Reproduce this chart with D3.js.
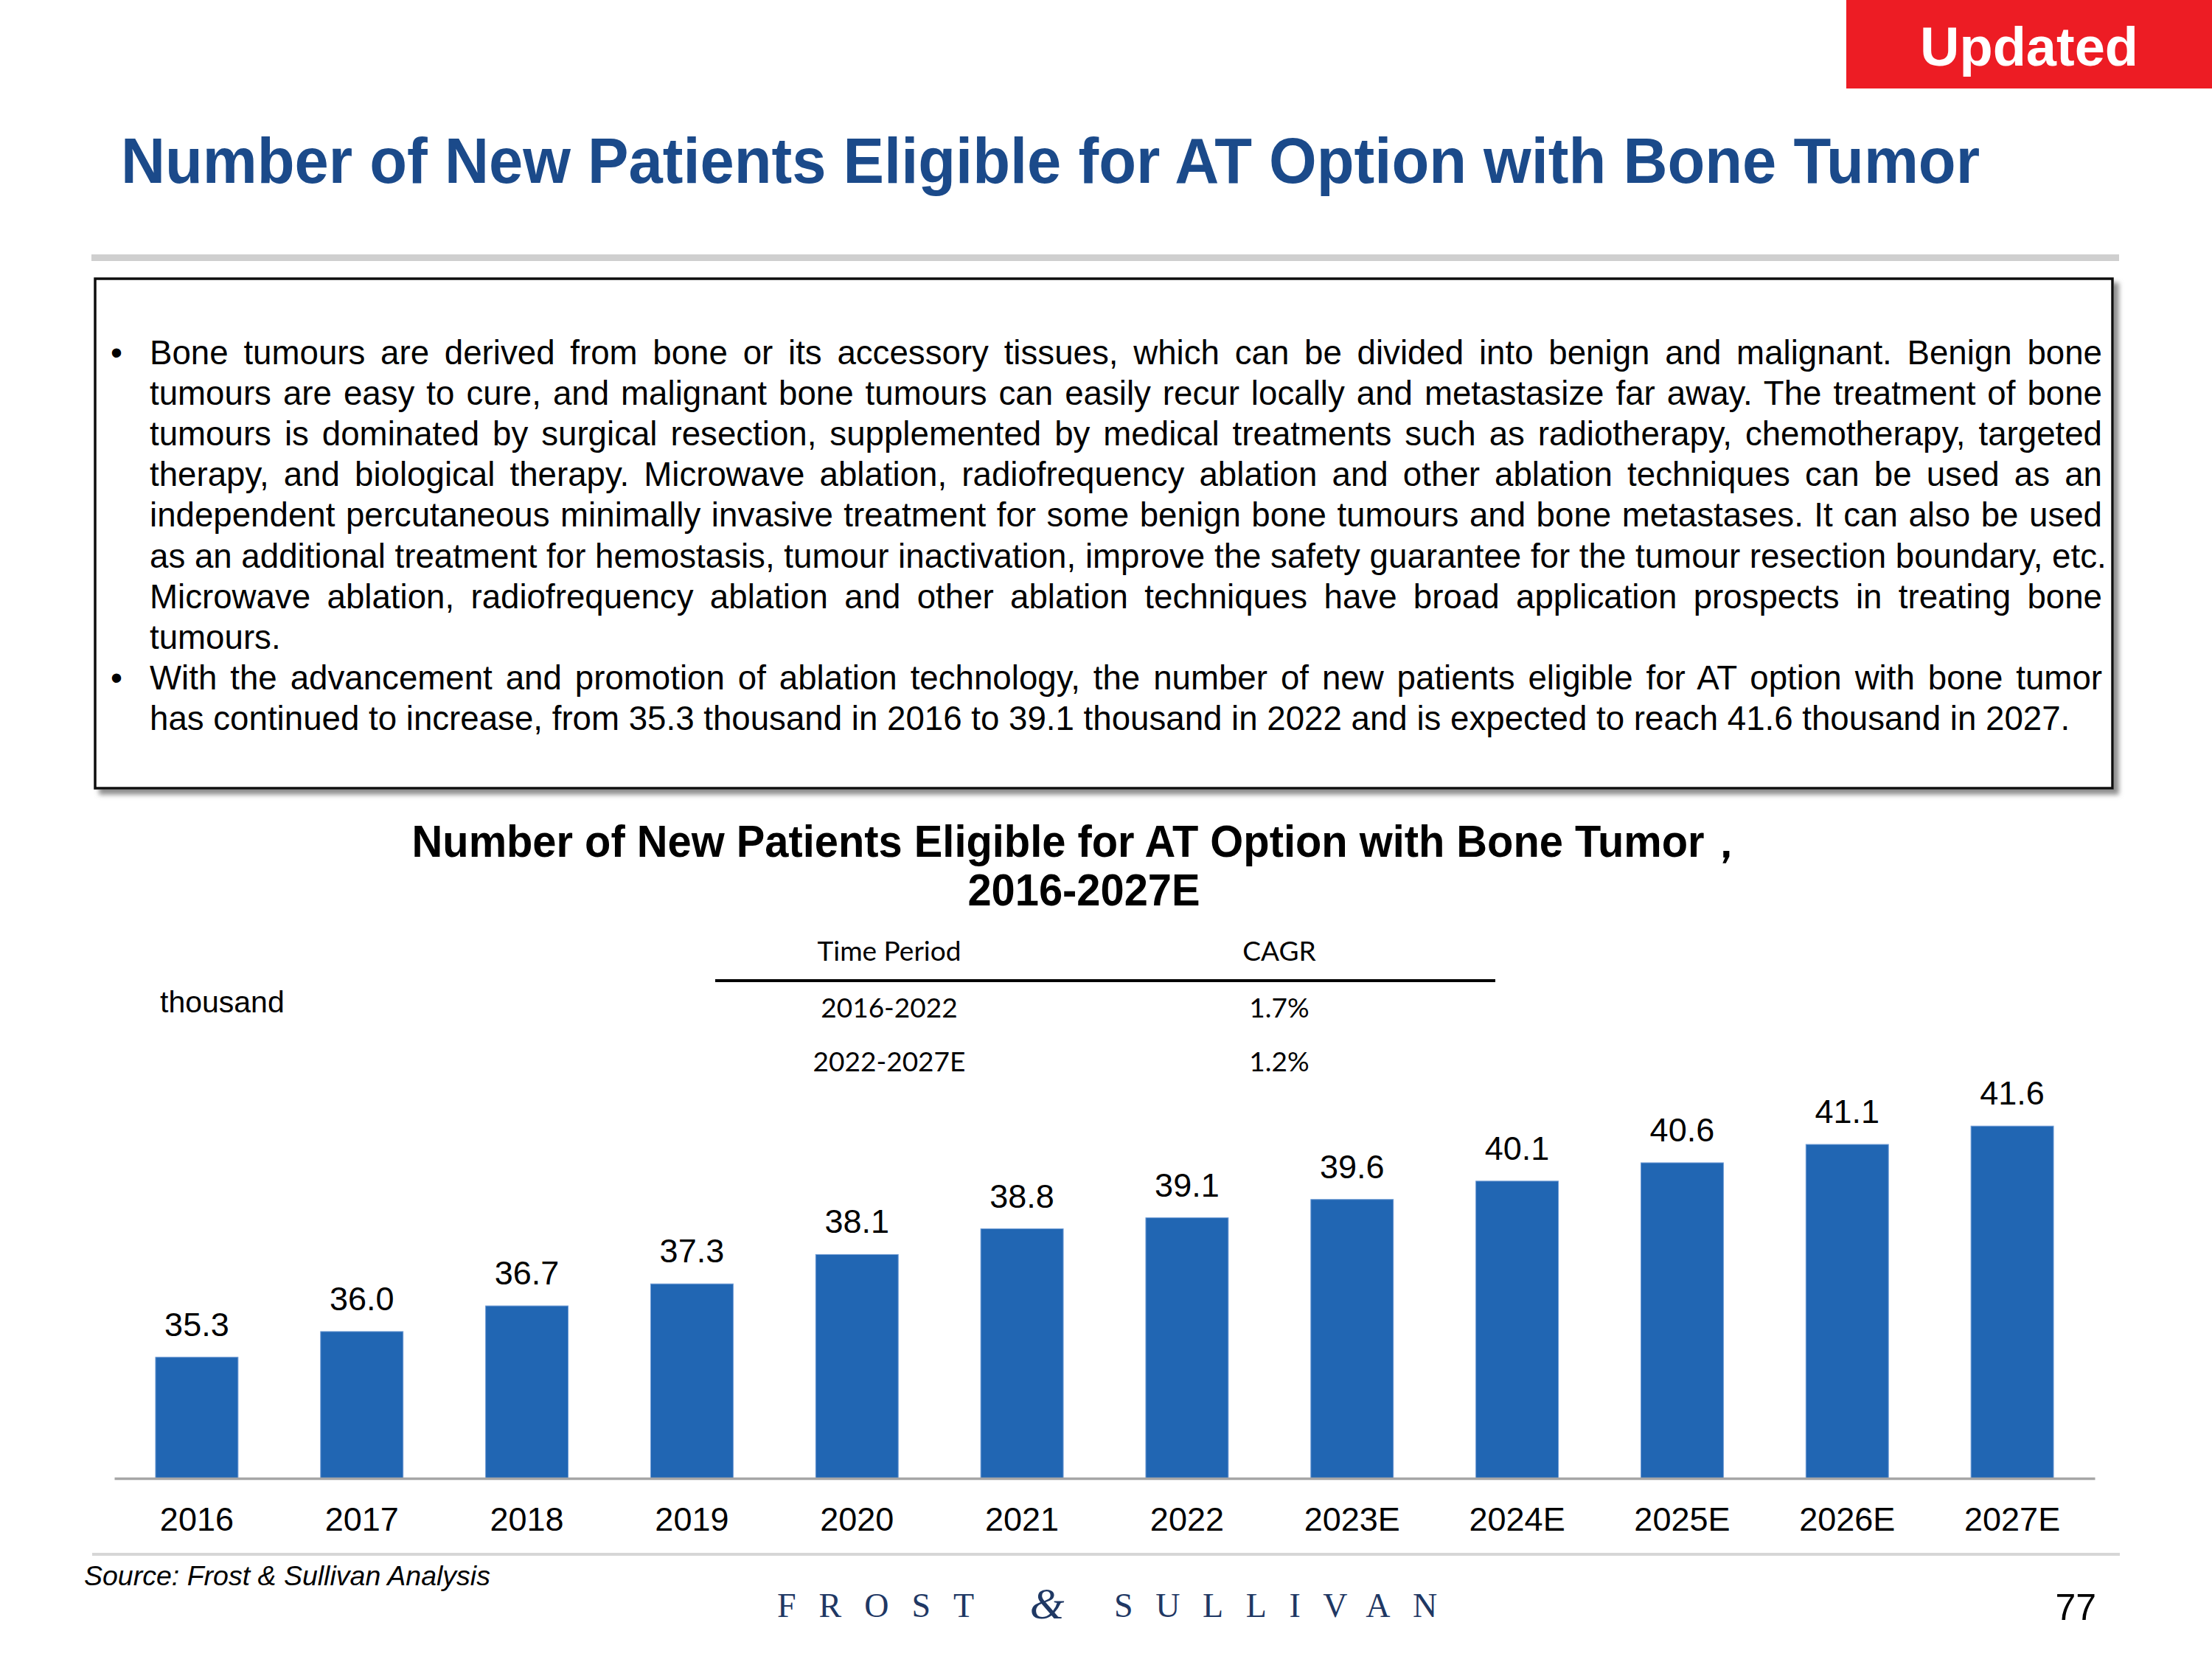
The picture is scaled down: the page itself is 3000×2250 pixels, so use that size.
<!DOCTYPE html>
<html>
<head>
<meta charset="utf-8">
<script src="https://cdnjs.cloudflare.com/ajax/libs/d3/7.8.5/d3.min.js"></script>
<style>
  html, body { margin: 0; padding: 0; background: #fff; }
  svg { display: block; }
</style>
</head>
<body>
<svg id="chart" width="3000" height="2250"></svg>
<script>
// ---------------- DATA ----------------
const categories = ["2016", "2017", "2018", "2019", "2020", "2021", "2022", "2023E", "2024E", "2025E", "2026E", "2027E"];
const values = [35.3, 36.0, 36.7, 37.3, 38.1, 38.8, 39.1, 39.6, 40.1, 40.6, 41.1, 41.6];
const cagrHeader = ["Time Period", "CAGR"];
const cagrPeriods = ["2016-2022", "2022-2027E"];
const cagrValues = ["1.7%", "1.2%"];
const pageTitle = "Number of New Patients Eligible for AT Option with Bone Tumor";
const chartTitle = ["Number of New Patients Eligible for AT Option with Bone Tumor\uFF0C", "2016-2027E"];
const unitLabel = "thousand";
const sourceText = "Source: Frost & Sullivan Analysis";
const pageNumber = "77";
const badgeText = "Updated";
// paragraph lines: [text, justified?, bullet?]
const bulletLines = [
  ["Bone tumours are derived from bone or its accessory tissues, which can be divided into benign and malignant. Benign bone", true, true],
  ["tumours are easy to cure, and malignant bone tumours can easily recur locally and metastasize far away. The treatment of bone", true, false],
  ["tumours is dominated by surgical resection, supplemented by medical treatments such as radiotherapy, chemotherapy, targeted", true, false],
  ["therapy, and biological therapy. Microwave ablation, radiofrequency ablation and other ablation techniques can be used as an", true, false],
  ["independent percutaneous minimally invasive treatment for some benign bone tumours and bone metastases. It can also be used", true, false],
  ["as an additional treatment for hemostasis, tumour inactivation, improve the safety guarantee for the tumour resection boundary, etc.", true, false],
  ["Microwave ablation, radiofrequency ablation and other ablation techniques have broad application prospects in treating bone", true, false],
  ["tumours.", false, false],
  ["With the advancement and promotion of ablation technology, the number of new patients eligible for AT option with bone tumor", true, true],
  ["has continued to increase, from 35.3 thousand in 2016 to 39.1 thousand in 2022 and is expected to reach 41.6 thousand in 2027.", false, false]
];

// ---------------- SETUP ----------------
const ARIAL = "'Liberation Sans', Arial, Helvetica, sans-serif";
const svg = d3.select("#chart");

const defs = svg.append("defs");
const f = defs.append("filter").attr("id", "shadow").attr("x", "-5%").attr("y", "-5%").attr("width", "115%").attr("height", "125%");
f.append("feDropShadow").attr("dx", 7).attr("dy", 7).attr("stdDeviation", 3).attr("flood-color", "#7a7a7a").attr("flood-opacity", 0.85);

// Updated badge
svg.append("rect").attr("x", 2504).attr("y", 0).attr("width", 496).attr("height", 120).attr("fill", "#ED1C24");
svg.append("text").attr("x", 2752).attr("y", 89).attr("text-anchor", "middle")
  .attr("font-family", ARIAL).attr("font-weight", "bold").attr("font-size", 74).attr("fill", "#fff").text(badgeText);

// Page title
svg.append("text").attr("x", 164).attr("y", 248)
  .attr("font-family", ARIAL).attr("font-weight", "bold").attr("font-size", 87).attr("fill", "#1B4A8A")
  .attr("textLength", 2521).attr("lengthAdjust", "spacingAndGlyphs").text(pageTitle);

// gray rule
svg.append("rect").attr("x", 124).attr("y", 345).attr("width", 2750).attr("height", 9).attr("fill", "#cfcfcf");

// Text box
svg.append("rect").attr("x", 129).attr("y", 378).attr("width", 2736).attr("height", 691)
  .attr("fill", "#fff").attr("stroke", "#111").attr("stroke-width", 3.5).attr("filter", "url(#shadow)");

// paragraph
const textX = 203, textRight = 2851, firstBase = 494, lineStep = 55.1;
const para = svg.append("g").attr("font-family", ARIAL).attr("fill", "#000");
let fs = 42;
const probe = para.append("text").attr("font-size", fs).text(bulletLines[9][0]);
const w10 = probe.node().getComputedTextLength();
probe.remove();
fs = Math.max(38, Math.min(46, fs * (2605 / w10)));
para.attr("font-size", fs);
bulletLines.forEach((ln, i) => {
  const y = firstBase + i * lineStep;
  if (ln[2]) para.append("text").attr("x", 150).attr("y", y).text("\u2022");
  const t = para.append("text").attr("x", textX).attr("y", y).text(ln[0]);
  if (ln[1]) {
    const w = t.node().getComputedTextLength();
    const n = (ln[0].match(/ /g) || []).length;
    const extra = (textRight - textX - w) / n;
    if (extra > 0) t.style("word-spacing", extra + "px");
  }
});

// Chart title (slightly condensed like the original)
const ct = svg.append("g").attr("font-family", ARIAL).attr("font-weight", "bold").attr("font-size", 61).attr("fill", "#000").attr("text-anchor", "middle");
[[1464, 1162], [1470, 1228]].forEach((p, i) => {
  const t = ct.append("text").attr("x", p[0]).attr("y", p[1]).text(chartTitle[i]);
  const w = t.node().getComputedTextLength();
  t.attr("textLength", w * 0.948).attr("lengthAdjust", "spacingAndGlyphs");
});

// CAGR table
const LATO = "Lato, 'Open Sans', sans-serif";
const colX = [1206, 1735];
const tbl = svg.append("g").attr("font-family", LATO).attr("font-size", 37).attr("fill", "#000").attr("text-anchor", "middle");
cagrHeader.forEach((h, i) => tbl.append("text").attr("x", colX[i]).attr("y", 1303).text(h));
svg.append("line").attr("x1", 970).attr("x2", 2028).attr("y1", 1330).attr("y2", 1330).attr("stroke", "#000").attr("stroke-width", 4);
cagrPeriods.forEach((p, i) => {
  const y = 1380 + i * 73;
  tbl.append("text").attr("x", colX[0]).attr("y", y).text(p);
  tbl.append("text").attr("x", colX[1]).attr("y", y).text(cagrValues[i]);
});

// unit label
svg.append("text").attr("x", 217).attr("y", 1373).attr("font-family", ARIAL).attr("font-size", 41).attr("fill", "#000").text(unitLabel);

// ---------------- BAR CHART ----------------
const x = d3.scaleBand().domain(categories).range([155, 2841]).paddingInner(0.5).paddingOuter(0.25);
const y = d3.scaleLinear().domain([32, 45]).range([2005, 1358]);
const data = categories.map((c, i) => ({ c, v: values[i] }));

svg.append("g").selectAll("rect").data(data).join("rect")
  .attr("x", d => x(d.c)).attr("width", x.bandwidth())
  .attr("y", d => y(d.v)).attr("height", d => y.range()[0] - y(d.v))
  .attr("fill", "#2166B3").attr("stroke", "#6f9bd4").attr("stroke-width", 1);

svg.append("g").selectAll("text").data(data).join("text")
  .attr("x", d => x(d.c) + x.bandwidth() / 2).attr("y", d => y(d.v) - 29)
  .attr("text-anchor", "middle").attr("font-family", ARIAL).attr("font-size", 45).attr("fill", "#000")
  .text(d => d3.format(".1f")(d.v));

const xAxis = svg.append("g").attr("transform", "translate(0,2005)")
  .call(d3.axisBottom(x).tickSize(0).tickSizeOuter(0).tickPadding(39));
xAxis.select(".domain").attr("stroke", "#a6a6a6").attr("stroke-width", 3.5);
xAxis.selectAll("text").attr("font-family", ARIAL).attr("font-size", 45).attr("fill", "#000");

// footer rule
svg.append("rect").attr("x", 125).attr("y", 2106).attr("width", 2750).attr("height", 4).attr("fill", "#d6d6d6");

// source
svg.append("text").attr("x", 114).attr("y", 2150).attr("font-family", ARIAL).attr("font-style", "italic").attr("font-size", 37.5).attr("fill", "#000").text(sourceText);

// logo
const SERIF = "'Liberation Serif', 'Times New Roman', serif";
const logo = svg.append("g").attr("font-family", SERIF).attr("fill", "#1F3864").attr("font-size", 46);
logo.append("text").attr("x", 1054).attr("y", 2193).attr("letter-spacing", 31).text("FROST");
logo.append("text").attr("x", 1420).attr("y", 2195).attr("text-anchor", "middle").attr("font-style", "italic").attr("font-size", 60).text("&");
logo.append("text").attr("x", 1511).attr("y", 2193).attr("letter-spacing", 30.6).text("SULLIVAN");

// page number
svg.append("text").attr("x", 2843).attr("y", 2197).attr("text-anchor", "end").attr("font-family", ARIAL).attr("font-size", 50).attr("fill", "#000").text(pageNumber);
</script>
</body>
</html>
